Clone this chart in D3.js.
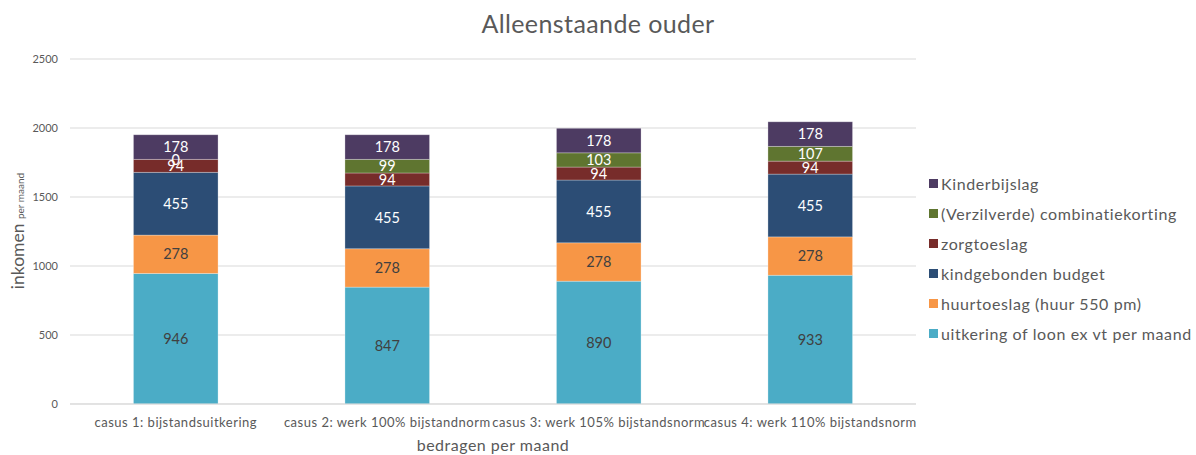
<!DOCTYPE html>
<html><head><meta charset="utf-8">
<script src="https://cdn.jsdelivr.net/npm/d3@7"></script>
<style>body{margin:0;background:#fff;}svg{font-family:Lato,"Open Sans",sans-serif;}</style>
</head><body><svg id="c" width="1196" height="455"></svg>
<script>
const categories = ["casus 1: bijstandsuitkering","casus 2: werk 100% bijstandnorm","casus 3: werk 105% bijstandsnorm","casus 4: werk 110% bijstandsnorm"];
const seriesNames = ["uitkering of loon ex vt per maand","huurtoeslag (huur 550 pm)","kindgebonden budget","zorgtoeslag","(Verzilverde) combinatiekorting","Kinderbijslag"];
const uitkering = [946, 847, 890, 933];
const huurtoeslag = [278, 278, 278, 278];
const kindgebonden = [455, 455, 455, 455];
const zorgtoeslag = [94, 94, 94, 94];
const combinatiekorting = [0, 99, 103, 107];
const kinderbijslag = [178, 178, 178, 178];
const yTicks = [0, 500, 1000, 1500, 2000, 2500];
const colors = ["#4bacc6","#f79646","#2c4d75","#772c2a","#5f7530","#4d3b62"];
const labelColors = ["#404040","#404040","#fff","#fff","#fff","#fff"];

const seriesValues = [uitkering, huurtoeslag, kindgebonden, zorgtoeslag, combinatiekorting, kinderbijslag];
const rows = categories.map((c,i)=>{const o={cat:c}; seriesNames.forEach((s,j)=>o[s]=seriesValues[j][i]); return o;});
const stack = d3.stack().keys(seriesNames)(rows);

const svg = d3.select("#c");
const x = d3.scaleBand().domain(categories).range([70,916]).paddingInner(0.6).paddingOuter(0.3);
const y = d3.scaleLinear().domain([0,2500]).range([404,59]);

// gridlines
svg.append("g").selectAll("line").data(yTicks).join("line")
  .attr("x1",70).attr("x2",916).attr("y1",d=>y(d)).attr("y2",d=>y(d))
  .attr("stroke","#d9d9d9").attr("stroke-width",1);
// y axis labels
const ya = svg.append("g").attr("transform","translate(62,0)").call(d3.axisLeft(y).tickValues(yTicks).tickFormat(d3.format("d")).tickSize(0).tickPadding(4));
ya.select(".domain").remove();
ya.selectAll("text").attr("fill","#595959").style("font-size","11px").style("font-family","Lato,sans-serif");

// bars
const g = svg.append("g");
stack.forEach((s,j)=>{
  g.append("g").selectAll("rect").data(s).join("rect")
    .attr("x",d=>x(d.data.cat)).attr("width",x.bandwidth())
    .attr("y",d=>y(d[1])).attr("height",d=>y(d[0])-y(d[1]))
    .attr("fill",colors[j]).attr("stroke","#fff").attr("stroke-opacity",0.35).attr("stroke-width",0.8);
});
// labels
stack.forEach((s,j)=>{
  g.append("g").selectAll("text").data(s).join("text")
    .attr("x",d=>x(d.data.cat)+x.bandwidth()/2)
    .attr("y",d=>(y(d[0])+y(d[1]))/2)
    .attr("dy","0.36em").attr("text-anchor","middle")
    .attr("fill",labelColors[j]).style("font-size","14.5px")
    .text(d=>d[1]-d[0]);
});

// x axis line
svg.append("line").attr("x1",70).attr("x2",916).attr("y1",404).attr("y2",404).attr("stroke","#d9d9d9");
const xa = svg.append("g").attr("transform","translate(0,404)").call(d3.axisBottom(x).tickSize(0).tickPadding(14));
xa.select(".domain").remove();
xa.selectAll("text").attr("fill","#595959").style("font-size","13px").style("letter-spacing","0.5px").style("font-family","Lato,sans-serif");

// title
svg.append("text").attr("x",598).attr("y",33).attr("text-anchor","middle").attr("fill","#595959").style("font-size","25px").style("letter-spacing","0.4px").text("Alleenstaande ouder");
// x title
svg.append("text").attr("x",493).attr("y",451).attr("text-anchor","middle").attr("fill","#595959").style("font-size","16px").style("letter-spacing","0.5px").text("bedragen per maand");
// y title
const yt = svg.append("text").attr("transform","translate(24,231) rotate(-90)").attr("text-anchor","middle").attr("fill","#595959");
yt.append("tspan").style("font-size","17.5px").text("inkomen ");
yt.append("tspan").style("font-size","10px").text("per maand");

// legend
const legendOrder = seriesNames.map((n,i)=>({n,c:colors[i]})).reverse();
const lg = svg.append("g").selectAll("g").data(legendOrder).join("g")
  .attr("transform",(d,i)=>`translate(929,${184+i*30})`);
lg.append("rect").attr("x",0).attr("y",-5).attr("width",9).attr("height",9).attr("fill",d=>d.c);
lg.append("text").attr("x",12).attr("y",0).attr("dy","0.35em").attr("fill","#595959").style("font-size","16px").style("letter-spacing","0.6px").text(d=>d.n);
</script></body></html>
